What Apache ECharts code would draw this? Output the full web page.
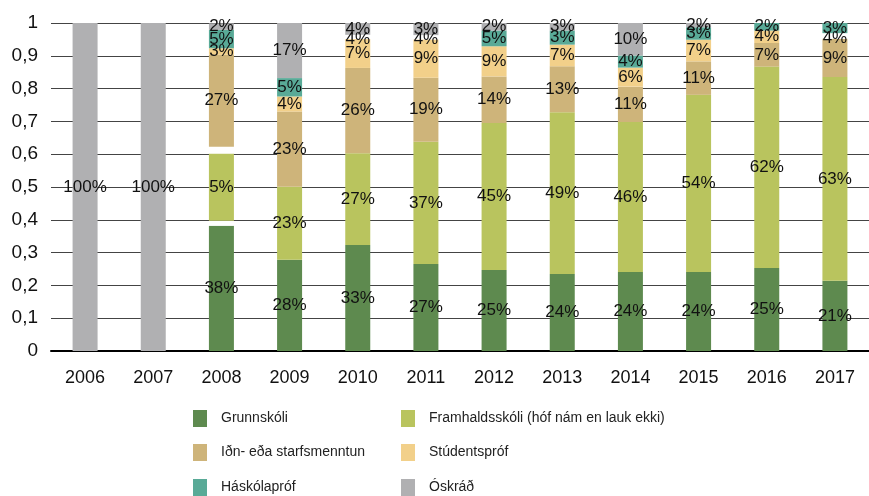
<!DOCTYPE html>
<html>
<head>
<meta charset="utf-8">
<script src="https://cdn.jsdelivr.net/npm/echarts@6/dist/echarts.min.js"></script>
<style>
  html, body { margin: 0; padding: 0; background: #fff; }
  #chart { width: 869px; height: 496px; }
</style>
</head>
<body>
<div id="chart"></div>
<script>
const years = ["2006", "2007", "2008", "2009", "2010", "2011", "2012", "2013", "2014", "2015", "2016", "2017"];

// segment heights
const grunnskoli = [0, 0, 0.382, 0.278, 0.323, 0.265, 0.247, 0.235, 0.241, 0.241, 0.253, 0.214];
const framhald = [0, 0, 0.205, 0.223, 0.280, 0.373, 0.448, 0.493, 0.457, 0.540, 0.614, 0.621];
const idn = [0, 0, 0.280, 0.229, 0.260, 0.195, 0.142, 0.140, 0.108, 0.102, 0.072, 0.117];
const studentsprof = [0, 0, 0.020, 0.046, 0.088, 0.117, 0.092, 0.066, 0.058, 0.066, 0.038, 0];
const haskolaprof = [0, 0, 0.056, 0.056, 0, 0, 0.048, 0.043, 0.037, 0.038, 0.023, 0.031];
const oskrad = [1, 1, 0.020, 0.168, 0.036, 0.036, 0.023, 0.024, 0.099, 0.013, 0, 0];

// white gaps seen between some segments
const gapA = [0, 0, 0.015, 0, 0, 0, 0, 0, 0, 0, 0, 0];
const gapB = [0, 0, 0.021, 0, 0, 0, 0, 0, 0, 0, 0, 0];
const gapC = [0, 0, 0, 0, 0, 0, 0, 0, 0, 0, 0, 0.017];
const gapD = [0, 0, 0, 0, 0.013, 0.013, 0, 0, 0, 0, 0, 0];

// printed labels
const grunnLbl = ["", "", "38%", "28%", "33%", "27%", "25%", "24%", "24%", "24%", "25%", "21%"];
const framLbl = ["", "", "5%", "23%", "27%", "37%", "45%", "49%", "46%", "54%", "62%", "63%"];
const idnLbl = ["", "", "27%", "23%", "26%", "19%", "14%", "13%", "11%", "11%", "7%", "9%"];
const studLbl = ["", "", "3%", "4%", "7%", "9%", "9%", "7%", "6%", "7%", "4%", "4%"];
const haskLbl = ["", "", "5%", "5%", "4%", "4%", "5%", "3%", "4%", "3%", "2%", "3%"];
const oskLbl = ["100%", "100%", "2%", "17%", "4%", "3%", "2%", "3%", "10%", "2%", "", ""];

const yTicks = [0, 0.1, 0.2, 0.3, 0.4, 0.5, 0.6, 0.7, 0.8, 0.9, 1];

const FONT = "Liberation Sans, Arial, sans-serif";

function seg(name, data, labels, color) {
  return {
    name: name,
    type: "bar",
    stack: "total",
    barWidth: 25,
    data: data,
    itemStyle: { color: color },
    label: {
      show: true,
      position: "inside",
      color: "#111",
      fontFamily: FONT,
      fontSize: 17,
      formatter: p => labels[p.dataIndex]
    },
    emphasis: { disabled: true }
  };
}

function gap(data) {
  return {
    name: "",
    type: "bar",
    stack: "total",
    barWidth: 25,
    data: data,
    silent: true,
    itemStyle: { color: "#ffffff" },
    label: { show: false },
    emphasis: { disabled: true }
  };
}

function legendItem(name, left, top) {
  return {
    left: left,
    top: top,
    padding: 0,
    itemWidth: 14,
    itemHeight: 17,
    icon: "rect",
    selectedMode: false,
    textStyle: { color: "#222", fontFamily: FONT, fontSize: 14, padding: [0, 0, 0, 9] },
    data: [name]
  };
}

const chart = echarts.init(document.getElementById("chart"));
chart.setOption({
  animation: false,
  backgroundColor: "#fff",
  grid: { left: 51, top: 23, width: 823, height: 328 },
  legend: [
    legendItem("Grunnskóli", 193, 410),
    legendItem("Iðn- eða starfsmenntun", 193, 444),
    legendItem("Háskólapróf", 193, 479),
    legendItem("Framhaldsskóli (hóf nám en lauk ekki)", 401, 410),
    legendItem("Stúdentspróf", 401, 444),
    legendItem("Óskráð", 401, 479)
  ],
  xAxis: {
    type: "category",
    data: years,
    axisTick: { show: false },
    axisLine: { lineStyle: { color: "#000", width: 2 } },
    axisLabel: { color: "#111", fontFamily: FONT, fontSize: 18, margin: 18 }
  },
  yAxis: {
    type: "value",
    min: 0,
    max: 1,
    interval: 0.1,
    axisLine: { show: false },
    axisTick: { show: false },
    splitLine: { lineStyle: { color: "#444", width: 1 } },
    axisLabel: {
      color: "#111",
      fontFamily: FONT,
      fontSize: 19,
      margin: 13,
      formatter: v => {
        const t = yTicks.find(x => Math.abs(x - v) < 1e-6);
        return String(t === undefined ? v : t).replace(".", ",");
      }
    }
  },
  series: [
    seg("Grunnskóli", grunnskoli, grunnLbl, "#5e8a4f"),
    gap(gapA),
    seg("Framhaldsskóli (hóf nám en lauk ekki)", framhald, framLbl, "#b9c45e"),
    gap(gapB),
    seg("Iðn- eða starfsmenntun", idn, idnLbl, "#ceb47a"),
    seg("Stúdentspróf", studentsprof, studLbl, "#f2d08a"),
    gap(gapC),
    seg("Háskólapróf", haskolaprof, haskLbl, "#59aa97"),
    gap(gapD),
    seg("Óskráð", oskrad, oskLbl, "#b0b0b2")
  ]
});
</script>
</body>
</html>
